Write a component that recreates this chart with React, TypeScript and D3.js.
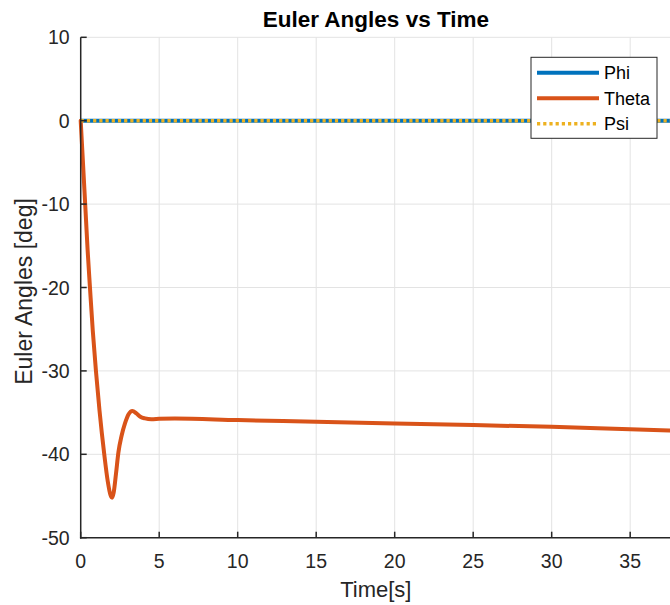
import React from "react";
import * as d3 from "d3";

const W = 670;
const H = 605;

const timeTheta = [0, 0.1, 0.2, 0.3, 0.44, 0.59, 0.77, 0.97, 1.2, 1.5, 1.72, 1.9, 2.0, 2.1, 2.25, 2.4, 2.6, 2.82, 3.05, 3.29, 3.55, 3.8, 4.1, 4.5, 5.0, 6.0, 10, 15, 20, 25, 30, 35, 37.6];
const thetaValues = [0, -3.5, -7, -10.5, -15.5, -20, -25.2, -30, -34.8, -40, -43.2, -44.9, -45.2, -44.6, -42.3, -39.8, -37.8, -36.3, -35.2, -34.8, -35.1, -35.5, -35.7, -35.8, -35.75, -35.7, -35.9, -36.1, -36.3, -36.5, -36.7, -37.0, -37.15];
const timeFlat = [0, 37.6];
const phiValues = [0, 0];
const psiValues = [0, 0];
const xTicks = [0, 5, 10, 15, 20, 25, 30, 35];
const yTicks = [10, 0, -10, -20, -30, -40, -50];
const legendLabels = ["Phi", "Theta", "Psi"];

const colors = { phi: "#0072BD", theta: "#D95319", psi: "#EDB120" };
const axisColor = "#262626";
const gridColor = "#e3e3e3";
const font = "'Liberation Sans', Arial, Helvetica, sans-serif";

export default function App() {
  const x = d3.scaleLinear().domain([0, 37.6]).range([80.7, 671]);
  const y = d3.scaleLinear().domain([-50, 10]).range([537.7, 37.3]);

  const toPts = (ts: number[], vs: number[]) => ts.map((t, i) => [t, vs[i]] as [number, number]);
  const line = d3
    .line<[number, number]>()
    .x((d) => x(d[0]))
    .y((d) => y(d[1]))
    .curve(d3.curveMonotoneX);
  const straight = d3
    .line<[number, number]>()
    .x((d) => x(d[0]))
    .y((d) => y(d[1]));

  const x0 = x.range()[0];
  const x1 = x.range()[1];
  const y0 = y.range()[0];
  const y1 = y.range()[1];

  const legendStyles = [
    { color: colors.phi, dash: undefined },
    { color: colors.theta, dash: undefined },
    { color: colors.psi, dash: "3.2 3" },
  ];

  return (
    <svg
      width={W}
      height={H}
      style={{ position: "absolute", left: 0, top: 0, background: "#fff" }}
      fontFamily={font}
    >
      <rect x={0} y={0} width={W} height={H} fill="#fff" />
      {/* grid */}
      {xTicks.map((t) => (
        <line key={"gx" + t} x1={x(t)} x2={x(t)} y1={y0} y2={y1} stroke={gridColor} strokeWidth={1} />
      ))}
      {yTicks.map((t) => (
        <line key={"gy" + t} x1={x0} x2={x1} y1={y(t)} y2={y(t)} stroke={gridColor} strokeWidth={1} />
      ))}
      {/* data */}
      <path d={straight(toPts(timeFlat, phiValues)) || ""} fill="none" stroke={colors.phi} strokeWidth={4} />
      <path
        d={line(toPts(timeTheta, thetaValues)) || ""}
        fill="none"
        stroke={colors.theta}
        strokeWidth={4}
        strokeLinejoin="round"
        strokeLinecap="round"
      />
      <path
        d={straight(toPts(timeFlat, psiValues)) || ""}
        fill="none"
        stroke={colors.psi}
        strokeWidth={3.5}
        strokeDasharray="3.2 3"
      />
      {/* axes */}
      <line x1={x0} x2={x0} y1={y1} y2={y0 + 1} stroke={axisColor} strokeWidth={1.5} />
      <line x1={x0 - 0.75} x2={x1} y1={y0} y2={y0} stroke={axisColor} strokeWidth={1.5} />
      {yTicks.map((t) => (
        <g key={"ty" + t}>
          <line x1={x0} x2={x0 + 6} y1={y(t)} y2={y(t)} stroke={axisColor} strokeWidth={1.5} />
          <text x={x0 - 11} y={y(t)} dy="0.36em" textAnchor="end" fontSize={19.5} fill={axisColor}>
            {t}
          </text>
        </g>
      ))}
      {xTicks.map((t) => (
        <g key={"tx" + t}>
          <line x1={x(t)} x2={x(t)} y1={y0} y2={y0 - 6} stroke={axisColor} strokeWidth={1.5} />
          <text x={x(t)} y={y0 + 30.5} textAnchor="middle" fontSize={19.5} fill={axisColor}>
            {t}
          </text>
        </g>
      ))}
      {/* labels */}
      <text x={(x0 + x1) / 2} y={597} textAnchor="middle" fontSize={22} fill={axisColor}>
        Time[s]
      </text>
      <text
        transform={`translate(32, ${(y0 + y1) / 2 + 4}) rotate(-90)`}
        textAnchor="middle"
        fontSize={23}
        fill={axisColor}
      >
        Euler Angles [deg]
      </text>
      <text x={(x0 + x1) / 2} y={27} textAnchor="middle" fontSize={22.5} fontWeight="bold" fill="#000">
        Euler Angles vs Time
      </text>
      {/* legend */}
      <rect x={531} y={57.3} width={126} height={81} fill="#fff" stroke={axisColor} strokeWidth={1} />
      {legendLabels.map((lab, i) => {
        const ly = 72.7 + i * 25.5;
        const s = legendStyles[i];
        return (
          <g key={lab}>
            <line
              x1={537}
              x2={599}
              y1={ly}
              y2={ly}
              stroke={s.color}
              strokeWidth={s.dash ? 3.5 : 4}
              strokeDasharray={s.dash}
            />
            <text x={604} y={ly} dy="0.36em" fontSize={18} fill="#000">
              {lab}
            </text>
          </g>
        );
      })}
    </svg>
  );
}
